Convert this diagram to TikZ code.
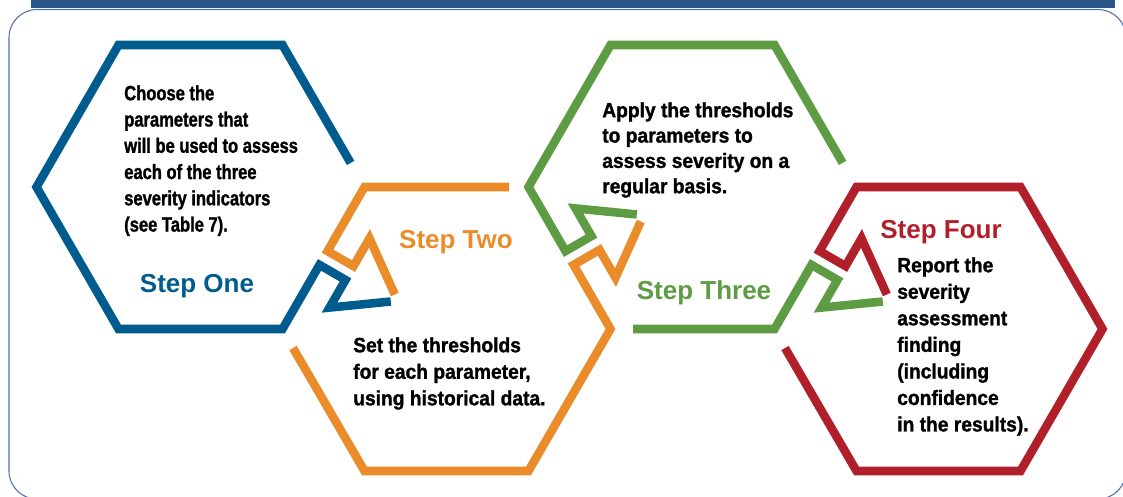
\documentclass[tikz,border=0pt]{standalone}
\usepackage{fontspec}
\setmainfont{Liberation Sans}
\newfontfamily\narrowfont[FakeStretch=0.8,BoldFeatures={FakeBold=1.3}]{Liberation Sans}
\newfontfamily\halfnarrowfont[FakeStretch=0.93,BoldFeatures={FakeBold=1.3}]{Liberation Sans}

\definecolor{azul}{RGB}{0,91,142}
\definecolor{naranja}{RGB}{234,140,42}
\definecolor{verde}{RGB}{94,156,68}
\definecolor{rojo}{RGB}{177,32,42}
\definecolor{barra}{RGB}{44,85,139}
\definecolor{marco}{RGB}{78,112,165}

\tikzstyle{hexline}= [line width=6.4pt,line join=miter]
\tikzstyle{desc}= [anchor=north west,inner sep=0pt,align=left,font=\halfnarrowfont\bfseries\fontsize{15.5}{19.9}\selectfont]
\tikzstyle{steplabel}= [anchor=base,inner sep=0pt,font=\bfseries\fontsize{19.5}{23}\selectfont]

\begin{document}
\begin{tikzpicture}[x=0.75pt,y=-0.75pt]
		\useasboundingbox (0,0) rectangle (1123,496);

		% frame
		\fill[barra] (31,0) rectangle (1115,7.5);
		\draw[marco,line width=0.8pt,rounded corners=21pt] (9,9.5) rectangle (1126,499);

		% step one
		\draw[hexline,azul] (350.6,162.9) -- (282.5,45) -- (118.5,45) -- (36.5,187) -- (118.5,329) -- (282.5,329)
			-- (319.5,264.9) -- (345.5,279.9) -- (329.5,307.6) -- (390.8,301.5);

		% step two
		\draw[hexline,naranja] (509,187) -- (364.5,187)
			-- (327.5,251.1) -- (353.5,266.1) -- (369.5,238.4) -- (394.8,294.5);
		\draw[hexline,naranja] (293,348) -- (364.5,471) -- (528.5,471) -- (610.5,329)
			-- (573.5,264.9) -- (599.5,249.9) -- (615.5,277.6) -- (640.8,221.5);

		% step three
		\draw[hexline,verde] (842.6,162.9) -- (774.5,45) -- (610.5,45) -- (528.5,187)
			-- (565.5,251.1) -- (591.5,236.1) -- (575.5,208.4) -- (636.8,214.5);
		\draw[hexline,verde] (633,329) -- (774.5,329)
			-- (811.5,264.9) -- (837.5,279.9) -- (821.5,307.6) -- (882.8,301.5);

		% step four
		\draw[hexline,rojo] (785,348) -- (856.5,471) -- (1020.5,471) -- (1102.5,329) -- (1020.5,187) -- (856.5,187)
			-- (819.5,251.1) -- (845.5,266.1) -- (861.5,238.4) -- (886.8,294.5);

		% texts
		\node (d1) at (124,85) [desc,font=\narrowfont\bfseries\fontsize{15.5}{19.7}\selectfont] {Choose the\\parameters that\\will be used to assess\\each of the three\\severity indicators\\(see Table 7).};
		\node (s1) at (197,292) [steplabel,azul] {Step One};

		\node (s2) at (456,248) [steplabel,naranja] {Step Two};
		\node (d2) at (353,337) [desc] {Set the thresholds\\for each parameter,\\using historical data.};

		\node (d3) at (602,102) [desc,font=\halfnarrowfont\bfseries\fontsize{15.5}{19}\selectfont] {Apply the thresholds\\to parameters to\\assess severity on a\\regular basis.};
		\node (s3) at (704,299) [steplabel,verde] {Step Three};

		\node (s4) at (941,238) [steplabel,rojo] {Step Four};
		\node (d4) at (897,257) [desc] {Report the\\severity\\assessment\\finding\\(including\\confidence\\in the results).};

\end{tikzpicture}
\end{document}
